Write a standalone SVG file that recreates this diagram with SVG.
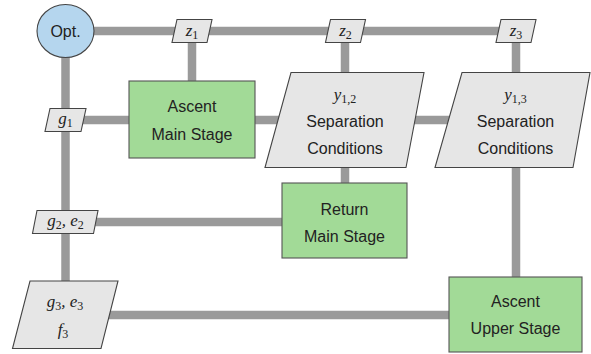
<svg xmlns="http://www.w3.org/2000/svg" width="591" height="354" viewBox="0 0 591 354">
  <style>
    .wire { stroke: #9a9a9a; stroke-width: 8.5; fill: none; stroke-linecap: butt; }
    .stage { fill: #a2da97; stroke: #555; stroke-width: 1.1; }
    .data { fill: #e6e6e6; stroke: #444; stroke-width: 1.1; }
    .opt { fill: #b5d6ee; stroke: #444; stroke-width: 1.1; }
    .lbl { font-family: "Liberation Sans", Arial, sans-serif; font-size: 16px; fill: #222; text-anchor: middle; }
    .math { font-family: "Liberation Serif", "DejaVu Serif", serif; font-size: 17px; font-style: italic; fill: #222; text-anchor: middle; }
    .sub { font-style: normal; font-size: 12px; }
  </style>
  <rect width="591" height="354" fill="#fff"/>
  <g id="connectors">
    <line class="wire" x1="66" y1="31" x2="516" y2="31"/>
    <line class="wire" x1="65.5" y1="31" x2="65.5" y2="290"/>
    <line class="wire" x1="192" y1="31" x2="192" y2="82"/>
    <line class="wire" x1="345" y1="31" x2="345" y2="184"/>
    <line class="wire" x1="516" y1="31" x2="516" y2="278"/>
    <line class="wire" x1="65.5" y1="120" x2="470" y2="120"/>
    <line class="wire" x1="65.5" y1="222" x2="283" y2="222"/>
    <line class="wire" x1="65.5" y1="315" x2="450" y2="315"/>
  </g>
  <g id="opt">
    <ellipse class="opt" cx="65.5" cy="31" rx="28.5" ry="26.5"/>
    <text class="lbl" x="65.5" y="37">Opt.</text>
  </g>
  <g id="z1">
    <polygon class="data" points="177,19.5 212,19.5 207,42.5 172,42.5"/>
    <text class="math" x="192" y="36">z<tspan class="sub" dy="3">1</tspan></text>
  </g>
  <g id="z2">
    <polygon class="data" points="330.5,19.5 365.5,19.5 360.5,42.5 325.5,42.5"/>
    <text class="math" x="345.5" y="36">z<tspan class="sub" dy="3">2</tspan></text>
  </g>
  <g id="z3">
    <polygon class="data" points="501,19.5 536,19.5 531,42.5 496,42.5"/>
    <text class="math" x="516" y="36">z<tspan class="sub" dy="3">3</tspan></text>
  </g>
  <g id="g1">
    <polygon class="data" points="50,108.5 86,108.5 81,131.5 45,131.5"/>
    <text class="math" x="65.5" y="124">g<tspan class="sub" dy="3">1</tspan></text>
  </g>
  <g id="g2e2">
    <polygon class="data" points="37,210.5 98,210.5 93.5,233.5 32.5,233.5"/>
    <text class="math" x="65.5" y="226">g<tspan class="sub" dy="3">2</tspan><tspan dy="-3">, e</tspan><tspan class="sub" dy="3">2</tspan></text>
  </g>
  <g id="g3e3f3">
    <polygon class="data" points="30,281 118,281 101,348.5 12.5,348.5"/>
    <text class="math" x="65" y="307">g<tspan class="sub" dy="3">3</tspan><tspan dy="-3">, e</tspan><tspan class="sub" dy="3">3</tspan></text>
    <text class="math" x="63" y="335">f<tspan class="sub" dy="3">3</tspan></text>
  </g>
  <g id="ascent-main">
    <rect class="stage" x="129" y="81" width="126" height="77"/>
    <text class="lbl" x="192" y="112">Ascent</text>
    <text class="lbl" x="192" y="140">Main Stage</text>
  </g>
  <g id="sep12">
    <polygon class="data" points="291,72.5 424,72.5 406,167.5 265,167.5"/>
    <text class="math" x="345" y="100">y<tspan class="sub" dy="3">1,2</tspan></text>
    <text class="lbl" x="345" y="127">Separation</text>
    <text class="lbl" x="345" y="154">Conditions</text>
  </g>
  <g id="sep13">
    <polygon class="data" points="462,72.5 590,72.5 573,167.5 435,167.5"/>
    <text class="math" x="515.5" y="100">y<tspan class="sub" dy="3">1,3</tspan></text>
    <text class="lbl" x="515.5" y="127">Separation</text>
    <text class="lbl" x="515.5" y="154">Conditions</text>
  </g>
  <g id="return-main">
    <rect class="stage" x="282" y="183" width="125" height="75"/>
    <text class="lbl" x="344.5" y="215">Return</text>
    <text class="lbl" x="344.5" y="242">Main Stage</text>
  </g>
  <g id="ascent-upper">
    <rect class="stage" x="449" y="277" width="133" height="75"/>
    <text class="lbl" x="515.5" y="307">Ascent</text>
    <text class="lbl" x="515.5" y="334">Upper Stage</text>
  </g>
</svg>
